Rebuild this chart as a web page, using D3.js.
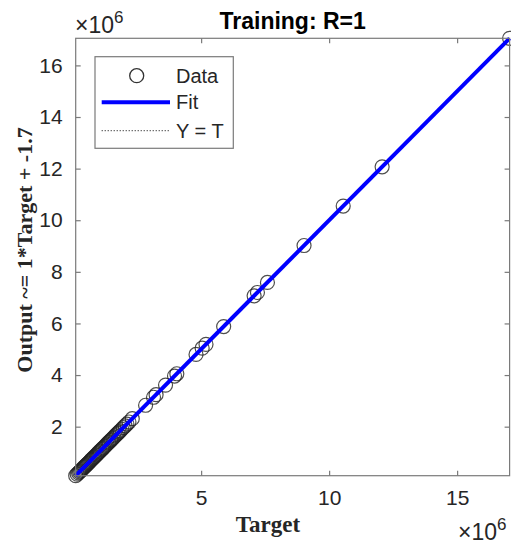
<!DOCTYPE html>
<html>
<head>
<meta charset="utf-8">
<script src="https://cdn.jsdelivr.net/npm/d3@7"></script>
<style>
  body { margin: 0; background: #fff; }
  svg { display: block; }
</style>
</head>
<body>
<svg width="511" height="548"></svg>
<script>
// values in units of 1e6
const targets = [
  0.10, 0.16, 0.21, 0.25, 0.29, 0.33, 0.37, 0.41, 0.45, 0.49,
  0.53, 0.57, 0.61, 0.65, 0.69, 0.73, 0.77, 0.81, 0.85, 0.90,
  0.94, 0.98, 1.02, 1.06, 1.11, 1.15, 1.19, 1.24, 1.28, 1.32,
  1.37, 1.41, 1.46, 1.50, 1.55, 1.59, 1.64, 1.69, 1.74, 1.79,
  1.84, 1.90, 1.96, 2.03, 2.10, 2.18, 2.31,
  2.83, 3.14, 3.24, 3.61, 3.96, 4.05, 4.80, 5.04, 5.19, 5.88,
  7.07, 7.20, 7.59, 9.02, 10.55, 12.07, 17.05
];
const outputs = [
  0.10, 0.16, 0.21, 0.25, 0.29, 0.33, 0.37, 0.41, 0.45, 0.49,
  0.53, 0.57, 0.61, 0.65, 0.69, 0.73, 0.77, 0.81, 0.85, 0.90,
  0.94, 0.98, 1.02, 1.06, 1.11, 1.15, 1.19, 1.24, 1.28, 1.32,
  1.37, 1.41, 1.46, 1.50, 1.55, 1.59, 1.64, 1.69, 1.74, 1.79,
  1.84, 1.90, 1.96, 2.03, 2.10, 2.18, 2.31,
  2.83, 3.14, 3.24, 3.61, 3.96, 4.05, 4.80, 5.04, 5.19, 5.88,
  7.07, 7.20, 7.59, 9.02, 10.55, 12.07, 17.05
];
const xTicks = [5, 10, 15];
const yTicks = [2, 4, 6, 8, 10, 12, 14, 16];
const fitSlope = 1;
const fitIntercept = -1.7e-6; // -1.7 in raw units
const legendItems = ["Data", "Fit", "Y = T"];

const svg = d3.select("svg");
const pLeft = 75.7, pTop = 38.3, pRight = 509.6, pBottom = 475.7;

const lo = d3.min(targets), hi = d3.max(targets);
const x = d3.scaleLinear().domain([lo, hi]).range([pLeft, pRight]);
const y = d3.scaleLinear().domain([lo, hi]).range([pBottom, pTop]);

const axisColor = "#7a7a7a";
const textColor = "#262626";

// clip for plot area
svg.append("clipPath").attr("id", "clip")
  .append("rect").attr("x", pLeft - 10).attr("y", pTop - 10)
  .attr("width", pRight - pLeft + 20).attr("height", pBottom - pTop + 20);

const g = svg.append("g").attr("clip-path", "url(#clip)");

// data circles
g.selectAll("circle.pt")
  .data(targets.map((t, i) => ({ t: t, o: outputs[i] })))
  .enter()
  .append("circle")
  .attr("class", "pt")
  .attr("cx", d => x(d.t))
  .attr("cy", d => y(d.o))
  .attr("r", 7)
  .attr("fill", "none")
  .attr("stroke", "#222")
  .attr("stroke-opacity", 0.8)
  .attr("stroke-width", 1.2);

// Y = T line (dotted, under fit)
g.append("line")
  .attr("x1", x(lo)).attr("y1", y(lo)).attr("x2", x(hi)).attr("y2", y(hi))
  .attr("stroke", "#000").attr("stroke-width", 1).attr("stroke-dasharray", "1,2");

// Fit line
g.append("line")
  .attr("x1", x(lo)).attr("y1", y(fitSlope * lo + fitIntercept))
  .attr("x2", x(hi)).attr("y2", y(fitSlope * hi + fitIntercept))
  .attr("stroke", "#0000ff").attr("stroke-width", 4);

// frame
svg.append("rect")
  .attr("x", pLeft).attr("y", pTop)
  .attr("width", pRight - pLeft).attr("height", pBottom - pTop)
  .attr("fill", "none").attr("stroke", axisColor).attr("stroke-width", 1.2);

// axes (ticks inward)
const xAxis = d3.axisBottom(x).tickValues(xTicks).tickSize(-5).tickPadding(14).tickFormat(d3.format("d"));
const xAxisTop = d3.axisTop(x).tickValues(xTicks).tickSize(-5).tickFormat("");
const yAxis = d3.axisLeft(y).tickValues(yTicks).tickSize(-5).tickPadding(13).tickFormat(d3.format("d"));
const yAxisRight = d3.axisRight(y).tickValues(yTicks).tickSize(-5).tickFormat("");

function styleAxis(sel) {
  sel.select(".domain").remove();
  sel.attr("font-size", null).attr("font-family", null);
  sel.selectAll(".tick line").attr("stroke", axisColor).attr("stroke-width", 1.2);
  sel.selectAll(".tick text")
    .attr("fill", textColor)
    .style("font-family", "'Liberation Sans', Arial, sans-serif")
    .style("font-size", "21px");
}

svg.append("g").attr("transform", `translate(0,${pBottom})`).call(xAxis).call(styleAxis);
svg.append("g").attr("transform", `translate(0,${pTop})`).call(xAxisTop).call(styleAxis);
svg.append("g").attr("transform", `translate(${pLeft},0)`).call(yAxis).call(styleAxis);
svg.append("g").attr("transform", `translate(${pRight},0)`).call(yAxisRight).call(styleAxis);

// exponent labels
function expLabel(px, py) {
  const t = svg.append("text")
    .attr("x", px).attr("y", py)
    .attr("fill", textColor)
    .style("font-family", "'Liberation Sans', Arial, sans-serif")
    .style("font-size", "23px");
  t.append("tspan").text("\u00d710");
  t.append("tspan").attr("dy", -10).style("font-size", "17px").text("6");
}
expLabel(75, 33);
expLabel(458, 540);

// title
svg.append("text")
  .attr("x", (pLeft + pRight) / 2).attr("y", 29)
  .attr("text-anchor", "middle")
  .attr("fill", "#000")
  .style("font-family", "'Liberation Sans', Arial, sans-serif")
  .style("font-weight", "bold")
  .style("font-size", "23px")
  .text("Training: R=1");

// axis labels
svg.append("text")
  .attr("x", 268).attr("y", 532)
  .attr("text-anchor", "middle")
  .attr("fill", textColor)
  .style("font-family", "'Liberation Serif', 'Times New Roman', serif")
  .style("font-weight", "bold")
  .style("font-size", "23px")
  .text("Target");

svg.append("text")
  .attr("transform", "translate(32,250) rotate(-90)")
  .attr("text-anchor", "middle")
  .attr("fill", textColor)
  .style("font-family", "'Liberation Serif', 'Times New Roman', serif")
  .style("font-weight", "bold")
  .style("font-size", "22px")
  .text("Output ~= 1*Target + -1.7");

// legend
const lg = svg.append("g");
lg.append("rect")
  .attr("x", 95).attr("y", 56.7).attr("width", 138.3).attr("height", 91.6)
  .attr("fill", "#fff").attr("stroke", axisColor).attr("stroke-width", 1.2);

const rowY = [75.7, 102.3, 130.7];
lg.append("circle").attr("cx", 136.7).attr("cy", rowY[0]).attr("r", 7)
  .attr("fill", "none").attr("stroke", "#333").attr("stroke-width", 1.3);
lg.append("line").attr("x1", 101.7).attr("x2", 170).attr("y1", rowY[1]).attr("y2", rowY[1])
  .attr("stroke", "#0000ff").attr("stroke-width", 4);
lg.append("line").attr("x1", 101.7).attr("x2", 170).attr("y1", rowY[2]).attr("y2", rowY[2])
  .attr("stroke", "#000").attr("stroke-width", 1).attr("stroke-dasharray", "1,2");

lg.selectAll("text.lg")
  .data(legendItems)
  .enter()
  .append("text")
  .attr("class", "lg")
  .attr("x", 176)
  .attr("y", (d, i) => rowY[i] + 7)
  .attr("fill", textColor)
  .style("font-family", "'Liberation Sans', Arial, sans-serif")
  .style("font-size", "20px")
  .text(d => d);
</script>
</body>
</html>
